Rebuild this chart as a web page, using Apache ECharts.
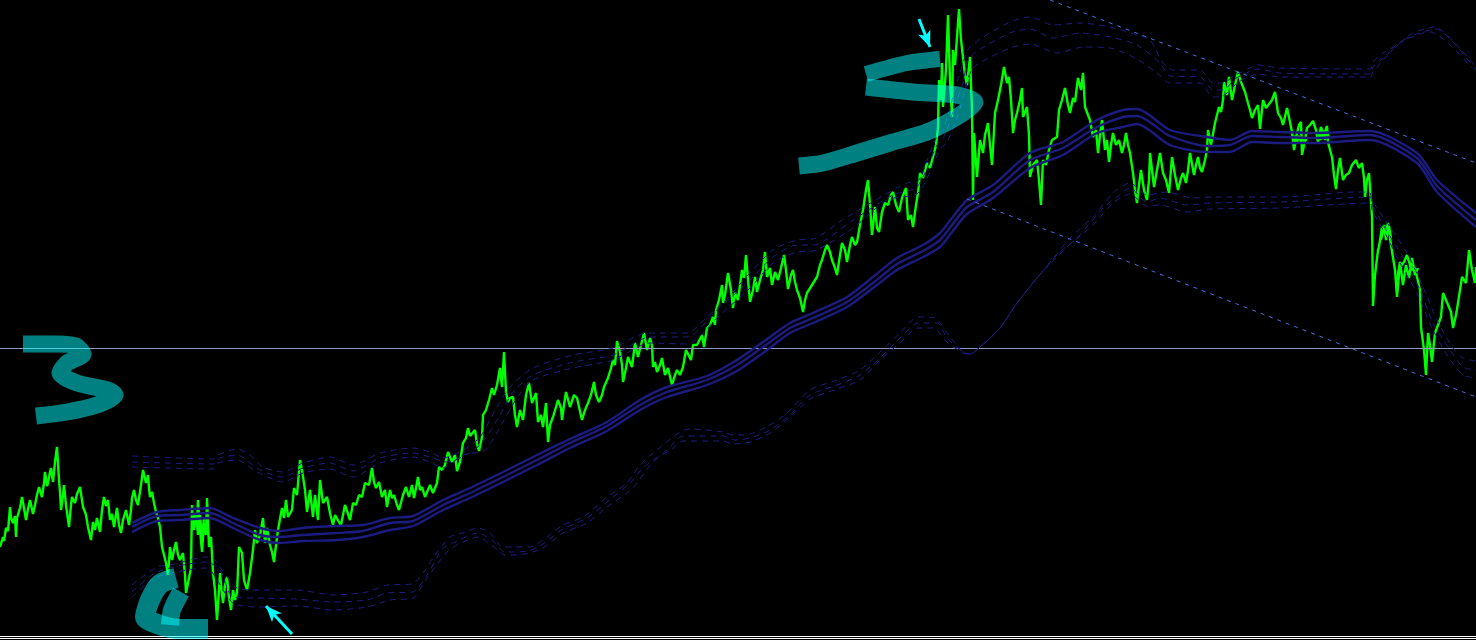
<!DOCTYPE html>
<html>
<head>
<meta charset="utf-8">
<title>chart</title>
<style>
  html, body { margin: 0; padding: 0; background: #000; }
  #chartContainer { width: 1476px; height: 640px; }
</style>
<script src="https://cdn.jsdelivr.net/npm/echarts@6/dist/echarts.min.js"></script>
</head>
<body>
<div id="chartContainer"></div>
<script>
// price, [bar, level], level axis runs top-down
const priceLine = [
  [0,547],[3,537],[4,541],[6,528],[8,531],[10,507],[11,518],[13,523],[15,516],[16,537],[17,518],[20,508],[22,497],[24,508],[26,520],[28,509],[30,500],[33,514],[35,505],[37,495],[39,487],[41,494],[42,497],[44,483],[45,472],[47,486],[48,483],[50,472],[51,468],[53,482],[55,462],[57,447],[59,480],[60,492],[61,510],[63,495],[64,485],[66,505],[69,527],[71,505],[72,497],[75,503],[77,494],[80,487],[83,507],[85,512],[86,515],[88,527],[91,540],[93,522],[95,530],[97,518],[100,532],[102,510],[104,497],[106,506],[108,500],[110,520],[112,514],[114,527],[117,508],[119,525],[121,533],[123,520],[126,510],[129,525],[131,510],[132,498],[134,490],[136,500],[138,505],[141,485],[143,470],[146,483],[148,475],[149,488],[150,497],[152,492],[154,503],[156,512],[158,518],[160,527],[162,547],[164,555],[166,563],[168,575],[170,547],[172,560],[174,550],[176,542],[178,555],[180,560],[183,553],[185,575],[186,593],[189,578],[191,568],[192,505],[193,530],[195,515],[197,520],[198,500],[200,530],[202,552],[204,523],[206,535],[207,498],[209,547],[211,537],[213,573],[215,590],[217,620],[219,590],[220,573],[222,595],[223,603],[225,585],[227,577],[229,598],[231,610],[233,590],[235,600],[237,593],[239,547],[242,553],[244,580],[247,590],[250,573],[253,550],[255,530],[257,543],[260,535],[263,518],[265,543],[267,528],[270,545],[272,552],[274,562],[276,545],[278,530],[280,530],[282,508],[284,518],[286,500],[288,517],[292,510],[294,488],[297,495],[300,460],[302,470],[305,490],[307,512],[310,490],[313,517],[315,495],[318,520],[320,480],[323,503],[327,497],[330,513],[333,525],[335,515],[337,513],[339,522],[341,525],[345,505],[350,520],[353,503],[356,505],[359,495],[362,497],[365,483],[369,485],[372,468],[374,482],[376,488],[379,482],[382,497],[385,490],[387,507],[390,490],[392,498],[394,495],[397,505],[399,510],[403,495],[406,487],[409,497],[412,485],[414,498],[416,488],[418,477],[420,490],[422,487],[425,497],[427,498],[430,485],[433,493],[437,483],[439,467],[442,470],[445,465],[448,452],[452,462],[455,455],[457,471],[460,462],[462,460],[463,443],[466,438],[468,428],[470,436],[472,438],[475,430],[477,444],[479,451],[482,437],[483,415],[486,410],[489,400],[492,388],[494,395],[497,385],[500,368],[502,387],[504,352],[506,392],[508,402],[510,398],[513,397],[515,415],[517,427],[520,410],[523,420],[526,395],[529,383],[532,403],[536,393],[538,422],[541,415],[543,427],[546,403],[548,442],[550,425],[553,417],[556,407],[558,400],[561,408],[562,420],[564,405],[566,392],[570,407],[574,395],[577,398],[582,420],[585,410],[588,403],[591,395],[594,382],[596,395],[599,402],[602,395],[604,387],[608,378],[611,368],[613,360],[615,365],[617,341],[620,352],[622,365],[623,382],[626,368],[628,357],[632,367],[635,343],[638,357],[641,345],[644,333],[647,350],[650,338],[652,345],[653,367],[655,362],[657,372],[660,365],[662,358],[665,375],[668,368],[672,385],[675,375],[677,370],[680,375],[683,367],[686,350],[691,360],[693,345],[697,345],[702,335],[704,347],[707,328],[710,325],[713,317],[715,325],[716,310],[719,300],[722,285],[723,303],[725,295],[728,273],[731,290],[733,308],[735,293],[738,300],[742,270],[744,278],[746,255],[748,280],[750,302],[753,290],[755,277],[757,292],[760,280],[763,270],[765,252],[767,277],[770,268],[772,285],[775,272],[778,280],[781,268],[784,255],[786,270],[788,289],[791,275],[793,270],[795,282],[797,290],[800,298],[803,312],[805,300],[807,293],[812,285],[817,277],[820,265],[822,260],[825,250],[827,245],[830,252],[832,260],[835,268],[837,275],[840,255],[842,243],[845,250],[847,262],[850,245],[852,237],[855,245],[857,242],[860,225],[863,210],[866,190],[868,180],[870,205],[872,235],[875,207],[877,228],[879,232],[882,212],[885,203],[888,205],[891,195],[893,192],[896,205],[899,212],[902,198],[906,188],[908,220],[911,215],[913,227],[916,205],[918,193],[920,173],[923,178],[927,163],[930,168],[934,153],[936,145],[938,128],[939,80],[941,100],[942,63],[943,107],[946,70],[948,15],[950,80],[952,117],[953,50],[955,65],[957,67],[959,9],[961,40],[963,57],[965,75],[967,85],[970,57],[972,110],[973,200],[974,133],[977,177],[980,140],[983,153],[985,135],[988,123],[990,145],[992,165],[995,113],[998,100],[1001,85],[1004,67],[1007,83],[1009,77],[1011,100],[1013,133],[1015,120],[1017,113],[1020,100],[1022,88],[1023,117],[1027,107],[1029,135],[1030,177],[1033,165],[1037,160],[1039,180],[1041,205],[1043,160],[1046,165],[1049,150],[1052,140],[1057,137],[1059,110],[1062,100],[1065,88],[1068,105],[1070,113],[1073,98],[1075,102],[1078,78],[1081,90],[1083,73],[1085,107],[1088,115],[1090,120],[1093,137],[1096,130],[1098,153],[1100,135],[1102,120],[1105,150],[1107,140],[1109,162],[1111,145],[1113,133],[1116,145],[1119,140],[1122,153],[1124,145],[1126,133],[1128,145],[1130,153],[1133,173],[1135,190],[1137,203],[1139,185],[1141,170],[1144,190],[1147,200],[1149,180],[1150,153],[1152,170],[1154,187],[1157,170],[1160,153],[1163,173],[1166,180],[1169,193],[1172,157],[1175,175],[1178,190],[1181,178],[1183,173],[1186,183],[1188,170],[1190,153],[1194,175],[1196,165],[1198,157],[1200,168],[1202,172],[1205,160],[1207,150],[1208,130],[1211,145],[1213,143],[1215,123],[1217,125],[1219,107],[1221,112],[1223,100],[1224,82],[1227,95],[1229,77],[1232,100],[1235,85],[1238,72],[1241,82],[1245,92],[1247,93],[1248,103],[1250,110],[1252,118],[1255,110],[1258,105],[1260,129],[1263,100],[1266,108],[1268,110],[1272,100],[1275,92],[1278,113],[1281,118],[1283,125],[1287,108],[1290,122],[1292,132],[1294,150],[1297,133],[1299,125],[1301,122],[1302,155],[1305,140],[1307,128],[1310,125],[1313,121],[1316,130],[1318,142],[1321,127],[1324,135],[1327,126],[1328,142],[1330,150],[1332,157],[1334,175],[1336,189],[1338,170],[1340,158],[1343,180],[1346,175],[1349,173],[1352,165],[1356,160],[1359,168],[1362,163],[1364,178],[1365,197],[1367,180],[1369,173],[1372,217],[1373,306],[1375,275],[1376,267],[1378,250],[1379,247],[1382,227],[1385,235],[1388,223],[1391,245],[1393,247],[1395,270],[1397,297],[1399,275],[1400,267],[1404,262],[1407,255],[1410,265],[1412,270],[1415,268],[1417,277],[1420,290],[1421,327],[1424,350],[1426,375],[1428,333],[1430,345],[1432,362],[1435,333],[1438,325],[1441,317],[1443,293],[1446,300],[1448,302],[1451,312],[1453,328],[1456,315],[1458,303],[1460,290],[1462,277],[1466,283],[1469,250],[1472,270],[1475,283],[1476,267]
];

// places where the price trace is a dense blob
const priceClusterA = [[194,530],[196,513],[198,535],[200,515],[202,540],[204,518]];
const priceClusterB = [[1293,142],[1295,136],[1297,142],[1299,136],[1301,142],[1303,137],[1305,142],[1307,137]];
const priceClusterC = [[1317,140],[1319,132],[1321,140],[1323,132],[1325,140],[1327,132],[1329,138]];
const priceClusterD = [[1381,240],[1384,225],[1386,240],[1389,226],[1391,238]];
const priceClusterE = [[1397,280],[1400,262],[1403,285],[1406,265],[1409,278],[1412,258],[1415,275],[1418,268]];

// moving average band, three solid lines on shared bars
const bandBars = [132,157,180,210,233,260,280,303,337,363,390,413,443,470,503,537,570,607,640,667,707,737,763,790,813,847,873,897,923,940,952,967,993,1030,1063,1097,1123,1137,1170,1207,1230,1252,1280,1313,1370,1417,1437,1476];
const bandUpper = [523,512,510,508,518,528,531,528,526,525,518,516,500,488,472,455,439,422,400,387,376,360,342,323,313,297,277,258,245,233,218,200,185,153,142,120,110,109,130,137,140,131,132,133,131,153,180,213];
const bandMiddle = [527,516,515,513,523,535,537,535,533,531,523,521,505,493,477,460,443,426,405,392,380,365,347,328,318,302,283,264,251,240,225,207,192,160,148,127,117,116,136,146,145,136,137,138,135,158,186,220];
const bandLower = [532,521,520,518,528,540,543,541,540,537,530,526,510,498,482,465,448,431,410,397,385,371,353,333,323,307,288,270,257,247,232,214,198,168,155,133,127,124,145,152,152,142,143,143,140,163,192,227];

// dashed envelope above the band
const upperEnvTop = [[132,456],[213,459],[218,455],[237,449],[250,455],[263,467],[283,472],[303,463],[330,457],[353,465],[380,453],[413,448],[430,452],[443,458],[463,450],[480,437],[497,407],[510,387],[533,368],[573,355],[613,348],[647,333],[687,333],[707,317],[723,303],[750,273],[773,250],[797,240],[813,239],[847,217],[907,183],[917,182],[935,140],[943,130],[953,97],[960,73],[970,47],[1010,22],[1030,17],[1053,25],[1080,23],[1110,27],[1137,35],[1150,40],[1163,63],[1173,70],[1200,70],[1213,83],[1223,83],[1235,75],[1242,72],[1258,65],[1280,68],[1370,69],[1373,62],[1383,53],[1397,45],[1413,33],[1435,27],[1447,35],[1463,52],[1476,67]];
const upperEnvMid = [[132,462],[213,464],[220,458],[237,455],[260,470],[283,477],[303,468],[330,463],[353,471],[380,458],[413,453],[430,457],[447,462],[466,455],[482,443],[500,415],[513,392],[533,375],[573,362],[613,355],[650,337],[687,337],[717,310],[750,280],[773,257],[797,245],[813,245],[853,220],[893,195],[917,187],[937,145],[945,135],[955,105],[963,83],[970,57],[1010,33],[1030,29],[1053,38],[1080,33],[1110,37],[1137,45],[1160,63],[1170,76],[1200,77],[1213,90],[1223,90],[1235,79],[1242,75],[1258,69],[1280,73],[1370,74],[1373,67],[1387,55],[1407,38],[1437,29],[1453,42],[1476,70]];
const upperEnvLow = [[132,467],[213,469],[218,463],[237,460],[257,472],[283,482],[303,473],[330,469],[353,477],[380,463],[413,457],[430,462],[443,468],[463,455],[485,450],[503,422],[517,398],[533,380],[573,368],[613,360],[650,343],[687,344],[720,315],[750,288],[773,263],[797,252],[813,251],[853,228],[887,200],[918,193],[940,150],[948,140],[958,115],[965,90],[973,68],[1010,48],[1030,44],[1057,53],[1083,47],[1110,48],[1137,59],[1157,73],[1170,83],[1200,83],[1213,97],[1223,96],[1235,85],[1242,80],[1258,74],[1280,77],[1370,77],[1373,72],[1400,43],[1430,32],[1447,42],[1472,68]];

// dashed envelope below the band
const lowerEnvTop = [[132,585],[157,567],[170,565],[207,557],[213,558],[227,577],[237,588],[257,590],[297,590],[333,595],[367,592],[387,585],[412,584],[423,573],[433,558],[450,537],[463,533],[478,528],[490,533],[503,547],[530,547],[543,540],[563,525],[583,517],[607,497],[627,483],[640,465],[663,445],[680,432],[690,429],[723,432],[733,435],[750,434],[770,425],[787,413],[810,390],[837,380],[860,370],[880,352],[900,333],[918,317],[935,318],[947,333],[963,352],[970,354],[980,347],[1000,328],[1017,303],[1037,278],[1060,250],[1070,238],[1093,217],[1113,193],[1130,183],[1147,195],[1167,192],[1193,198],[1213,197],[1280,197],[1357,192],[1370,193],[1372,200],[1390,227],[1407,253],[1423,287],[1437,320],[1453,348],[1463,358],[1476,361]];
const lowerEnvMid = [[132,592],[157,572],[207,562],[220,570],[233,597],[257,598],[297,599],[333,602],[367,600],[387,593],[413,592],[427,575],[443,548],[455,542],[478,533],[493,541],[505,552],[528,551],[543,544],[563,529],[587,518],[607,502],[630,483],[643,468],[667,450],[683,436],[723,436],[735,440],[750,438],[770,430],[790,415],[810,395],[837,385],[860,375],[880,358],[900,338],[918,323],[937,323],[947,338],[963,352],[970,354],[980,347],[1000,328],[1017,303],[1037,278],[1060,252],[1077,238],[1103,208],[1117,197],[1130,188],[1147,202],[1160,198],[1187,205],[1210,203],[1280,202],[1370,197],[1372,205],[1388,233],[1403,257],[1420,290],[1433,323],[1450,350],[1463,367],[1476,370]];
const lowerEnvLow = [[132,597],[157,577],[207,568],[217,580],[233,603],[257,607],[297,606],[333,610],[367,607],[390,600],[413,598],[427,578],[447,552],[457,545],[478,537],[493,546],[505,555],[525,554],[543,548],[563,533],[587,523],[607,507],[633,488],[653,462],[673,448],[683,441],[723,441],[733,444],[750,442],[770,433],[790,417],[810,399],[837,389],[860,380],[880,360],[900,343],[918,328],[933,328],[947,342],[963,353],[970,354],[980,347],[1000,328],[1017,303],[1037,278],[1067,247],[1093,225],[1113,203],[1130,194],[1147,206],[1160,205],[1187,212],[1210,209],[1280,208],[1370,203],[1372,210],[1387,237],[1400,263],[1417,293],[1432,328],[1447,355],[1463,375],[1476,378]];

// trend channel and flat levels
const channelTop = [[1050,0],[1476,163]];
const channelBottom = [[967,199],[1476,397]];
const levelMain = [[0,348.5],[1476,348.5]];
const levelFloorA = [[0,636.5],[1476,636.5]];
const levelFloorB = [[0,638.5],[1476,638.5]];

// hand drawn marks on the screenshot
const mark3 = [[23,344],[57,344],[76,346],[83,354],[67,363],[60,373],[77,383],[108,390],[115,395],[97,405],[67,412],[36,416]];
const mark4a = [[176,578],[160,584],[150,600],[145,617],[160,625],[180,629],[208,629]];
const mark4b = [[181,592],[172,610],[170,625]];
const mark5a = [[940,59],[907,63],[866,74]];
const mark5b = [[866,87],[913,92],[957,95],[975,102],[960,115],[927,132],[893,142],[857,153],[823,163],[799,166]];
const arrowLow = [[292,634],[266,606]];
const arrowHigh = [[919,19],[930,47]];

function lineSeries(points, color, width, type) {
  return {
    type: 'line', data: points, showSymbol: false, symbol: 'none', silent: true,
    lineStyle: { color: color, width: width, type: type || 'solid' }
  };
}

function zip(ys) {
  return ys.map((y, i) => [bandBars[i], y]);
}

function smoothSeries(points, color, width, type) {
  const s = lineSeries(points, color, width, type);
  s.smooth = 0.25;
  return s;
}

function priceSeries(points, width) {
  const s = lineSeries(points, '#00ff00', width);
  s.lineStyle.join = 'bevel';
  return s;
}

function strokeSeries(points, width) {
  const s = lineSeries(points, 'rgba(0,255,255,0.5)', width);
  s.smooth = 0.25;
  s.lineStyle.cap = 'butt';
  s.lineStyle.join = 'round';
  return s;
}

function arrowSeries(points) {
  return {
    type: 'line', data: [], silent: true,
    markLine: {
      silent: true, animation: false, symbol: ['none', 'arrow'], symbolSize: [10, 16],
      label: { show: false },
      lineStyle: { color: '#00ffff', width: 3, type: 'solid' },
      data: [[{ coord: points[0] }, { coord: points[1] }]]
    }
  };
}

const bandColor = '#1b1b80';
const envColor = '#1e1e80';
const envDash = [6, 5];

const chart = echarts.init(document.getElementById('chartContainer'));
chart.setOption({
  backgroundColor: '#000',
  animation: false,
  grid: { left: 0, right: 0, top: 0, bottom: 0 },
  xAxis: { type: 'value', min: 0, max: 1476, show: false },
  yAxis: { type: 'value', min: 0, max: 640, inverse: true, show: false },
  series: [
    priceSeries(priceLine, 2.4),
    priceSeries(priceClusterA, 2.4),
    priceSeries(priceClusterB, 2.4),
    priceSeries(priceClusterC, 2.4),
    priceSeries(priceClusterD, 2.4),
    priceSeries(priceClusterE, 2.4),
    lineSeries(levelMain, '#8a9ab8', 1),
    lineSeries(levelFloorA, '#ffffff', 1),
    lineSeries(levelFloorB, '#ffffff', 1),
    smoothSeries(zip(bandUpper), bandColor, 2.4),
    smoothSeries(zip(bandMiddle), bandColor, 2.4),
    smoothSeries(zip(bandLower), bandColor, 2.4),
    smoothSeries(upperEnvTop, envColor, 1, envDash),
    smoothSeries(upperEnvMid, envColor, 1, envDash),
    smoothSeries(upperEnvLow, envColor, 1, envDash),
    smoothSeries(lowerEnvTop, envColor, 1, envDash),
    smoothSeries(lowerEnvMid, envColor, 1, envDash),
    smoothSeries(lowerEnvLow, envColor, 1, envDash),
    lineSeries(channelTop, '#4a6ee0', 1, [4, 5]),
    lineSeries(channelBottom, '#4a6ee0', 1, [4, 5]),
    strokeSeries(mark3, 17),
    strokeSeries(mark4a, 20),
    strokeSeries(mark4b, 18),
    strokeSeries(mark5a, 16),
    strokeSeries(mark5b, 17),
    arrowSeries(arrowLow),
    arrowSeries(arrowHigh)
  ]
});
</script>
</body>
</html>
